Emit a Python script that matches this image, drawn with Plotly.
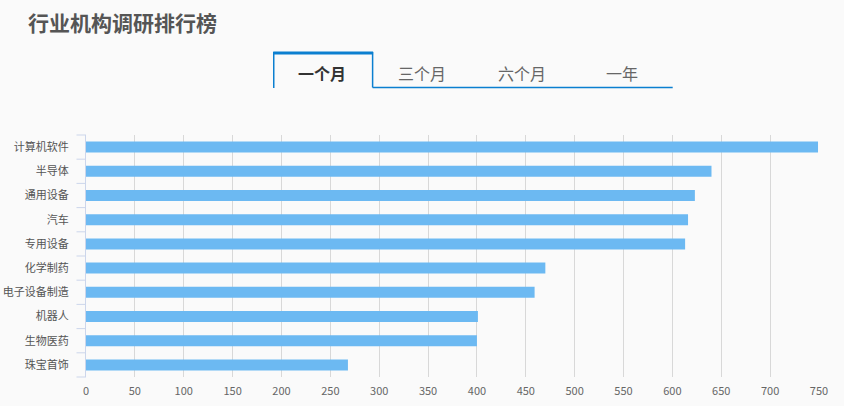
import plotly.graph_objects as go

# industry names and research counts (1 month)
industries = ['计算机软件', '半导体', '通用设备', '汽车', '专用设备',
              '化学制药', '电子设备制造', '机器人', '生物医药', '珠宝首饰']
counts = [749, 640, 623, 616, 613, 470, 459, 401, 400, 268]
tabs = ['一个月', '三个月', '六个月', '一年']
x_ticks = list(range(0, 751, 50))

W, H = 844, 406
L, R, T, B = 85.5, 24.5, 135, 29
pw, ph = W - L - R, H - T - B


# pixel -> paper coords helpers
def px(x):
    return (x - L) / pw


def py(y):
    return (H - B - y) / ph


fig = go.Figure()
fig.add_trace(go.Bar(
    x=counts, y=industries, orientation='h',
    marker=dict(color='#6cb9f2', line=dict(width=0)),
    hovertemplate='%{y}: %{x}<extra></extra>',
))

blue = '#0b7fd0'
shapes = [
    # selected tab box
    dict(type='line', xref='paper', yref='paper', x0=px(273.5), x1=px(273.5), y0=py(52), y1=py(88),
         line=dict(color=blue, width=1.5)),
    dict(type='line', xref='paper', yref='paper', x0=px(372.5), x1=px(372.5), y0=py(52), y1=py(87.5),
         line=dict(color=blue, width=1.5)),
    dict(type='line', xref='paper', yref='paper', x0=px(273), x1=px(373), y0=py(53), y1=py(53),
         line=dict(color=blue, width=3)),
    dict(type='line', xref='paper', yref='paper', x0=px(372.5), x1=px(673), y0=py(87.5), y1=py(87.5),
         line=dict(color=blue, width=1.5)),
]

# y-axis tick marks between categories
for i in range(len(industries) + 1):
    yy = T + i * ph / len(industries)
    shapes.append(dict(type='line', xref='paper', yref='paper', x0=px(76), x1=px(85.5),
                       y0=py(yy), y1=py(yy), line=dict(color='#ccd6eb', width=1)))

annotations = [
    dict(text='<b>行业机构调研排行榜</b>', xref='paper', yref='paper', x=px(25), y=py(22),
         xanchor='left', yanchor='middle', showarrow=False,
         font=dict(size=21, color='#555555')),
]
for i, t in enumerate(tabs):
    annotations.append(dict(
        text='<b>' + t + '</b>' if i == 0 else t,
        xref='paper', yref='paper', x=px(322 + 100 * i), y=py(73),
        xanchor='center', yanchor='middle', showarrow=False,
        font=dict(size=16, color='#333333' if i == 0 else '#666666')))

fig.update_layout(
    width=W, height=H,
    margin=dict(l=L, r=R, t=T, b=B),
    paper_bgcolor='#fafafa', plot_bgcolor='#fafafa',
    font=dict(family='Noto Sans CJK SC, sans-serif', size=11, color='#666666'),
    showlegend=False,
    bargap=0.545,
    shapes=shapes,
    annotations=annotations,
    xaxis=dict(range=[0, 750], tickvals=x_ticks, showgrid=True, gridcolor='#d8d8d8', gridwidth=1,
               zeroline=False, showline=False, ticks='', ticklabelstandoff=6, automargin=False,
               tickfont=dict(size=11, color='#666666')),
    yaxis=dict(autorange='reversed', showgrid=False, zeroline=False, showline=True,
               linecolor='#ccd6eb', linewidth=1, ticks='', ticklabelstandoff=14, automargin=False,
               tickfont=dict(size=11, color='#555555')),
)

fig.write_html('out.html', config={'displayModeBar': False},
               post_script="document.body.style.margin='0';")
